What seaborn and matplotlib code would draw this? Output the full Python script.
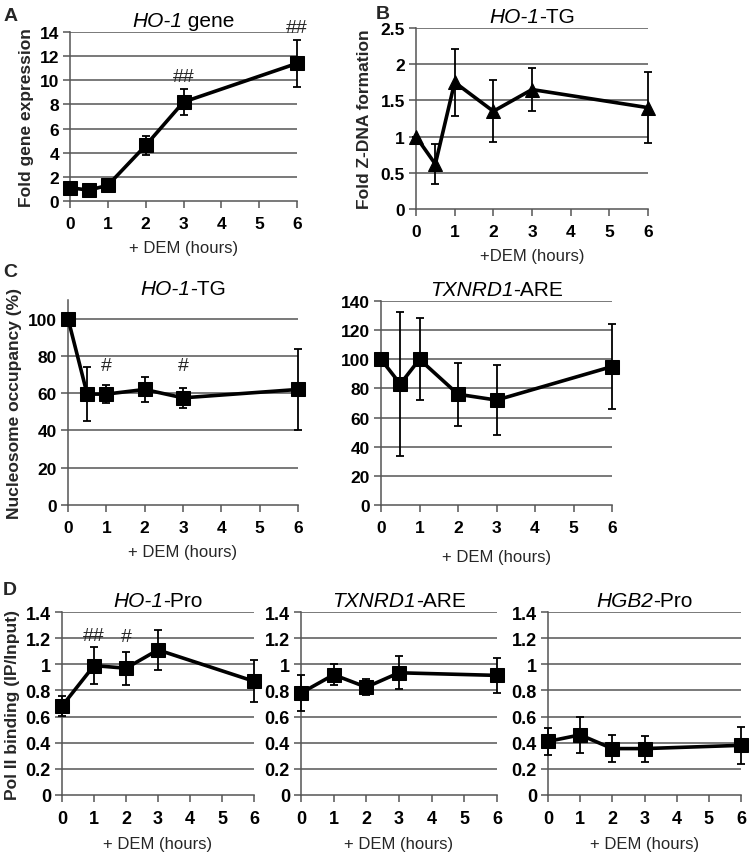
import matplotlib
matplotlib.use("Agg")
import matplotlib.pyplot as plt
import seaborn as sns
import pandas as pd
from matplotlib.offsetbox import TextArea, HPacker, AnchoredOffsetbox

# data
hours6 = [0, 0.5, 1, 2, 3, 6]
hours5 = [0, 1, 2, 3, 6]

a_vals = [1.1, 0.9, 1.3, 4.6, 8.2, 11.4]
a_err = [0.25, 0.15, 0.2, 0.8, 1.05, 1.95]

b_vals = [1.0, 0.62, 1.75, 1.35, 1.65, 1.4]
b_err = [0.0, 0.28, 0.46, 0.43, 0.3, 0.49]

c1_vals = [100, 59.5, 59.5, 62, 57.5, 62]
c1_err = [0, 14.5, 5, 6.5, 5.5, 21.5]

c2_vals = [100, 83, 100, 76, 72, 95]
c2_err = [0, 49.5, 28, 21.5, 24.3, 29]

d1_vals = [0.68, 0.99, 0.97, 1.11, 0.87]
d1_err = [0.075, 0.14, 0.125, 0.15, 0.16]

d2_vals = [0.78, 0.92, 0.825, 0.935, 0.915]
d2_err = [0.14, 0.08, 0.06, 0.125, 0.135]

d3_vals = [0.41, 0.46, 0.355, 0.355, 0.38]
d3_err = [0.105, 0.14, 0.105, 0.1, 0.14]

sns.set_theme(style="white")
plt.rcParams['font.family'] = ['Liberation Sans', 'DejaVu Sans']

W, H = 750, 854
fig = plt.figure(figsize=(7.5, 8.54), dpi=100)


def make_ax(left, right, top, bottom):
    return fig.add_axes([left / W, 1 - bottom / H, (right - left) / W, (bottom - top) / H])


def title(ax, ital, rest, size=15):
    parts = [TextArea(ital, textprops=dict(style='italic', size=size, color='black'))]
    if rest:
        parts.append(TextArea(rest, textprops=dict(size=size, color='black')))
    box = HPacker(children=parts, pad=0, sep=0, align='baseline')
    ab = AnchoredOffsetbox(loc='lower center', child=box, pad=0, borderpad=0, frameon=False,
                           bbox_to_anchor=(0.5, 1.01), bbox_transform=ax.transAxes)
    ax.add_artist(ab)


def panel(ax, x, y, err, ylim, yticks, ylabels, marker='s', tick_size=12.5):
    df = pd.DataFrame({'x': x, 'y': y})
    ax.errorbar(x, y, yerr=err, fmt='none', ecolor='black', elinewidth=1.3,
                capsize=3, capthick=1.3, zorder=3, clip_on=False)
    sns.lineplot(data=df, x='x', y='y', ax=ax, color='black', linewidth=2.6,
                 marker=marker, markersize=10, markeredgecolor='black',
                 markerfacecolor='black', zorder=4, clip_on=False)
    ax.set_xlim(0, 6)
    ax.set_ylim(*ylim)
    ax.set_xticks(range(7), labels=[str(v) for v in range(7)])
    ax.set_yticks(yticks, labels=ylabels)
    for yv in yticks[1:]:
        ax.axhline(yv, color='#555555', lw=1.1, zorder=1)
    for s in ['top', 'right']:
        ax.spines[s].set_visible(False)
    for s in ['left', 'bottom']:
        ax.spines[s].set_color('#555555')
        ax.spines[s].set_linewidth(1.1)
    ax.tick_params(axis='both', direction='out', length=5, width=1.1, color='#555555',
                   bottom=True, left=True, pad=3, labelsize=tick_size, labelcolor='black')
    ax.tick_params(axis='x', pad=6)
    ax.set_xlabel('')
    ax.set_ylabel('')


# Panel A
axA = make_ax(70, 297, 33, 202)
panel(axA, hours6, a_vals, a_err, (0, 14), list(range(0, 15, 2)), [str(v) for v in range(0, 15, 2)])
title(axA, 'HO-1', ' gene')
axA.set_ylabel('Fold gene expression', fontweight='bold', fontsize=12.5, labelpad=4)
axA.set_xlabel('+ DEM (hours)', fontsize=12, labelpad=6)
axA.text(3, 10.3, '##', ha='center', va='center', fontsize=14)
axA.text(6, 14.4, '##', ha='center', va='center', fontsize=14)

# Panel B
axB = make_ax(416, 648, 29, 210)
bt = [0, 0.5, 1, 1.5, 2, 2.5]
panel(axB, hours6, b_vals, b_err, (0, 2.5), bt, ['0', '0.5', '1', '1.5', '2', '2.5'], marker='^')
title(axB, 'HO-1', '-TG')
axB.set_ylabel('Fold Z-DNA formation', fontweight='bold', fontsize=12.5, labelpad=6)
axB.set_xlabel('+DEM (hours)', fontsize=12, labelpad=6)

# Panel C left
axC1 = make_ax(68, 298, 301, 506)
ct = list(range(0, 101, 20))
panel(axC1, hours6, c1_vals, c1_err, (0, 110), ct, [str(v) for v in ct])
title(axC1, 'HO-1', '-TG')
axC1.set_ylabel('Nucleosome occupancy (%)', fontweight='bold', fontsize=12.5, labelpad=4)
axC1.set_xlabel('+ DEM (hours)', fontsize=12, labelpad=6)
axC1.text(1, 75, '#', ha='center', va='center', fontsize=14)
axC1.text(3, 75, '#', ha='center', va='center', fontsize=14)

# Panel C right
axC2 = make_ax(381, 612, 302, 506)
ct2 = list(range(0, 141, 20))
panel(axC2, hours6, c2_vals, c2_err, (0, 140), ct2, [str(v) for v in ct2])
title(axC2, 'TXNRD1', '-ARE')
axC2.set_xlabel('+ DEM (hours)', fontsize=12, labelpad=10)

# Panel D
dt = [0, 0.2, 0.4, 0.6, 0.8, 1.0, 1.2, 1.4]
dl = ['0', '0.2', '0.4', '0.6', '0.8', '1', '1.2', '1.4']
axD1 = make_ax(62, 254, 613, 796)
panel(axD1, hours5, d1_vals, d1_err, (0, 1.4), dt, dl, tick_size=13)
title(axD1, 'HO-1', '-Pro')
axD1.set_ylabel('Pol II binding (IP/Input)', fontweight='bold', fontsize=12.5, labelpad=4)
axD1.set_xlabel('+ DEM (hours)', fontsize=12, labelpad=6)
axD1.text(1, 1.22, '##', ha='center', va='center', fontsize=14)
axD1.text(2, 1.21, '#', ha='center', va='center', fontsize=14)

axD2 = make_ax(301, 497, 613, 796)
panel(axD2, hours5, d2_vals, d2_err, (0, 1.4), dt, dl, tick_size=13)
title(axD2, 'TXNRD1', '-ARE')
axD2.set_xlabel('+ DEM (hours)', fontsize=12, labelpad=6)

axD3 = make_ax(548, 741, 613, 796)
panel(axD3, hours5, d3_vals, d3_err, (0, 1.4), dt, dl, tick_size=13)
title(axD3, 'HGB2', '-Pro')
axD3.set_xlabel('+ DEM (hours)', fontsize=12, labelpad=6)

# panel letters
for lbl, x, y in [('A', 4, 8), ('B', 376, 6), ('C', 3, 264), ('D', 3, 582)]:
    fig.text(x / W, 1 - y / H, lbl, fontsize=14, fontweight='bold', va='top', ha='left')

# bold tick labels (after a draw, so the tick objects are final)
fig.canvas.draw()
for ax in fig.axes:
    for t in ax.get_xticklabels() + ax.get_yticklabels():
        t.set_fontweight('bold')

fig.savefig('out.png', dpi=100, facecolor='white')
